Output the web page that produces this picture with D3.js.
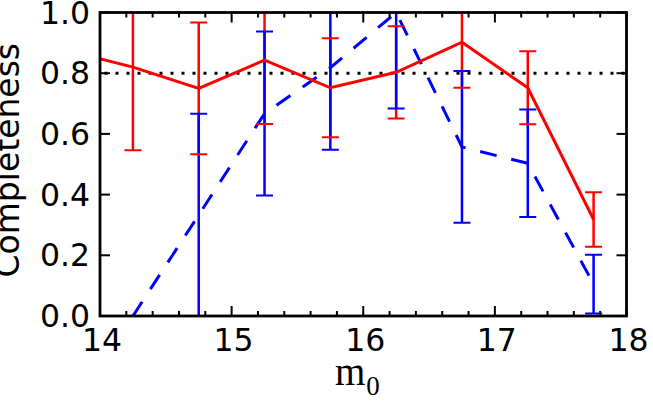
<!DOCTYPE html>
<html>
<head>
<meta charset="utf-8">
<script src="https://cdn.jsdelivr.net/npm/d3@7"></script>
<style>
  html, body { margin: 0; padding: 0; background: #fff; }
  svg { display: block; }
</style>
</head>
<body>
<svg id="chart" width="653" height="402"></svg>
<script>
// ---- data ----
const redX    = [13.75, 14.25, 14.75, 15.25, 15.75, 16.25, 16.75, 17.25, 17.75];
const redY    = [0.875, 0.82, 0.75, 0.843, 0.752, 0.803, 0.902, 0.752, 0.318];
const redErr  = [0.27, 0.274, 0.217, 0.21, 0.163, 0.152, 0.15, 0.12, 0.09];

const blueX   = [14.25, 14.75, 15.25, 15.75, 16.25, 16.75, 17.25, 17.75];
const blueY   = [0.0, 0.333, 0.667, 0.818, 1.0, 0.557, 0.503, 0.105];
const blueErr = [0.0, 0.333, 0.27, 0.27, 0.316, 0.25, 0.177, 0.097];

const refLevel = 0.8;
const xTicks = [14, 15, 16, 17, 18];
const xMinorTicks = d3.range(14, 18.0001, 0.2);
const yTicks = [0.0, 0.2, 0.4, 0.6, 0.8, 1.0];

// ---- layout ----
const L = 100, R = 626.5, T = 12.5, B = 316;
const svg = d3.select("#chart");
const x = d3.scaleLinear().domain([14, 18]).range([L, R]);
const y = d3.scaleLinear().domain([0, 1]).range([B, T]);

svg.append("defs").append("clipPath").attr("id", "clip")
  .append("rect").attr("x", L).attr("y", T).attr("width", R - L).attr("height", B - T);

const plot = svg.append("g").attr("clip-path", "url(#clip)");

// reference dotted line
plot.append("line")
  .attr("x1", L).attr("x2", R)
  .attr("y1", y(refLevel)).attr("y2", y(refLevel))
  .attr("stroke", "#000").attr("stroke-width", 3)
  .attr("stroke-dasharray", "3,8").attr("stroke-dashoffset", -4.5);

const red = "#ff0000", blue = "#0000ff";
const capHalf = 8.5;

function bars(xs, ys, es, color) {
  xs.forEach((xv, i) => {
    if (es[i] <= 0) return;
    plot.append("line")
      .attr("x1", x(xv)).attr("x2", x(xv))
      .attr("y1", y(ys[i] - es[i])).attr("y2", y(ys[i] + es[i]))
      .attr("stroke", color).attr("stroke-width", 2.5);
  });
}
function caps(xs, ys, es, color) {
  xs.forEach((xv, i) => {
    if (es[i] <= 0) return;
    [ys[i] - es[i], ys[i] + es[i]].forEach(v => {
      plot.append("line")
        .attr("x1", x(xv) - capHalf).attr("x2", x(xv) + capHalf)
        .attr("y1", y(v)).attr("y2", y(v))
        .attr("stroke", color).attr("stroke-width", 2);
    });
  });
}

bars(redX, redY, redErr, red);
bars(blueX, blueY, blueErr, blue);

const lineGen = d3.line().x(d => x(d[0])).y(d => y(d[1]));
plot.append("path")
  .datum(blueX.map((v, i) => [v, blueY[i]]))
  .attr("d", lineGen).attr("fill", "none")
  .attr("stroke", blue).attr("stroke-width", 3)
  .attr("stroke-dasharray", "17,15");
plot.append("path")
  .datum(redX.map((v, i) => [v, redY[i]]))
  .attr("d", lineGen).attr("fill", "none")
  .attr("stroke", red).attr("stroke-width", 3)
  .attr("stroke-linejoin", "miter");

caps(blueX, blueY, blueErr, blue);
caps(redX, redY, redErr, red);

// ---- axes ticks (inward, all sides) ----
const ax = svg.append("g").attr("stroke", "#000").attr("stroke-width", 2);
xMinorTicks.forEach(t => {
  const isMajor = Math.abs(t - Math.round(t)) < 1e-6;
  const len = isMajor ? 10 : 5;
  ax.append("line").attr("x1", x(t)).attr("x2", x(t)).attr("y1", B).attr("y2", B - len);
  ax.append("line").attr("x1", x(t)).attr("x2", x(t)).attr("y1", T).attr("y2", T + len);
});
yTicks.forEach(t => {
  ax.append("line").attr("x1", L).attr("x2", L + 10).attr("y1", y(t)).attr("y2", y(t));
  ax.append("line").attr("x1", R).attr("x2", R - 10).attr("y1", y(t)).attr("y2", y(t));
});

// frame
svg.append("rect").attr("x", L).attr("y", T).attr("width", R - L).attr("height", B - T)
  .attr("fill", "none").attr("stroke", "#000").attr("stroke-width", 2.8);

// tick labels
const tickFont = "'DejaVu Sans', sans-serif";
svg.append("g").selectAll("text").data(xTicks).join("text")
  .attr("x", d => x(d) + 2).attr("y", 351)
  .attr("text-anchor", "middle")
  .attr("font-family", tickFont).attr("font-size", 31.5).attr("fill", "#000")
  .text(d => d3.format("d")(d));
svg.append("g").selectAll("text").data(yTicks).join("text")
  .attr("x", 90).attr("y", d => y(d) + 11)
  .attr("text-anchor", "end")
  .attr("font-family", tickFont).attr("font-size", 31.5).attr("fill", "#000")
  .text(d => d3.format(".1f")(d));

// axis labels
svg.append("text")
  .attr("transform", `translate(18.5, ${(T + B) / 2 - 4}) rotate(-90)`)
  .attr("text-anchor", "middle")
  .attr("font-family", tickFont).attr("font-size", 33).attr("fill", "#000")
  .text("Completeness");

const xl = svg.append("text")
  .attr("x", 335).attr("y", 385)
  .attr("font-family", "'Liberation Serif', 'Times New Roman', serif")
  .attr("fill", "#000");
xl.append("tspan").attr("font-size", 39).text("m");
xl.append("tspan").attr("font-size", 27).attr("dx", 1).attr("dy", 10).text("0");
</script>
</body>
</html>
